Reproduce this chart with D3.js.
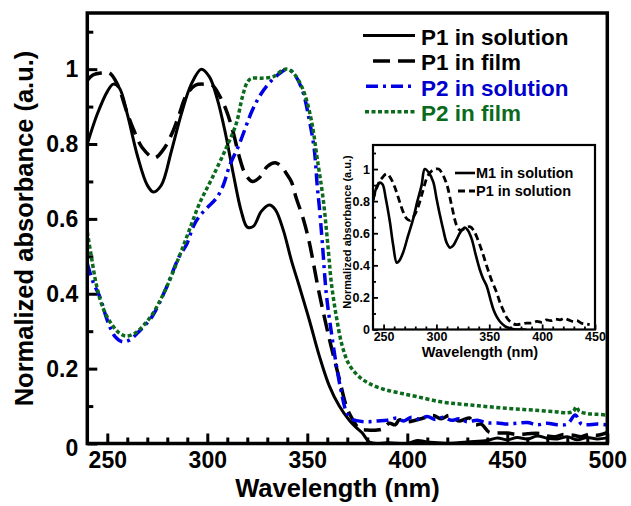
<!DOCTYPE html>
<html>
<head>
<meta charset="utf-8">
<script src="https://cdn.jsdelivr.net/npm/d3@7"></script>
<style>
  html, body { margin: 0; padding: 0; background: #fff; }
  svg { display: block; font-family: "Liberation Sans", Arial, sans-serif; font-weight: bold; }
</style>
</head>
<body>
<svg id="chart" width="631" height="506"></svg>
<script>
// ---- Main panel: normalized absorbance spectra [wavelength (nm), absorbance] ----
const p1Solution = [
  [240,0.80],[245,0.88],[250,0.94],[253,0.96],[256,0.95],[260,0.88],[265,0.77],[270,0.69],
  [273,0.672],[277,0.69],[282,0.78],[287,0.88],[292,0.96],[297,1.0],[301,0.98],[305,0.92],
  [309,0.83],[313,0.72],[317,0.62],[320,0.578],[323,0.58],[327,0.62],[331,0.637],[334,0.625],
  [338,0.57],[342,0.49],[346,0.42],[351,0.33],[356,0.234],[361,0.154],[366,0.10],[371,0.062],
  [374,0.045],[377.5,0.028],[381,0.004],[385,0.0],[390,0.002],[400,0.0],[405,0.008],[410,0.004],
  [415,0.002],[420,0.0],[430,0.004],[440,0.008],[445,0.015],[450,0.01],[455,0.016],[460,0.012],
  [465,0.02],[470,0.014],[475,0.012],[480,0.018],[485,0.01],[490,0.016],[495,0.012],[500,0.015]
];
const p1Film = [
  [240,0.97],[243,0.985],[247,0.99],[251,0.99],[255,0.96],[259.5,0.89],[263,0.84],[267.5,0.79],
  [273.5,0.763],[278,0.785],[282.5,0.83],[286,0.88],[289.5,0.93],[294,0.957],[298,0.96],
  [302.5,0.957],[306,0.93],[309.5,0.89],[313,0.83],[316,0.766],[319,0.72],[322.5,0.70],[326,0.71],
  [330,0.74],[334,0.75],[337,0.74],[339.7,0.72],[342,0.70],[344.5,0.655],[348,0.60],[351,0.537],
  [356,0.40],[361,0.28],[366,0.173],[369.5,0.10],[372.5,0.066],[376,0.04],[380,0.036],[385,0.036],
  [388,0.04],[391,0.054],[394,0.05],[396,0.063],[400,0.058],[404,0.062],[408,0.068],[413,0.075],
  [417,0.066],[421,0.075],[426,0.06],[431,0.068],[434,0.05],[437,0.052],[441,0.03],[446,0.028],
  [450,0.028],[455,0.024],[460,0.026],[466,0.027],[470,0.02],[474,0.018],[478,0.024],[483,0.022],
  [487,0.018],[491,0.025],[495,0.022],[500,0.03]
];
const p2Solution = [
  [240,0.48],[243,0.43],[246.4,0.39],[249,0.345],[251.4,0.31],[254,0.285],[257.5,0.272],[261,0.276],
  [266,0.30],[272.5,0.34],[279,0.41],[286,0.50],[289.5,0.53],[293,0.58],[296,0.607],[300,0.63],
  [304.5,0.655],[308,0.69],[311,0.74],[316,0.80],[322.5,0.89],[327,0.935],[331,0.963],[336,0.988],
  [340,1.0],[343,0.99],[347.5,0.944],[351,0.864],[353.5,0.785],[355,0.686],[356,0.633],[357.5,0.537],
  [359.5,0.40],[362,0.298],[364.5,0.21],[367,0.138],[369.5,0.085],[372,0.066],[374.5,0.061],
  [380,0.058],[385,0.06],[390,0.062],[395,0.068],[398,0.06],[402,0.07],[406,0.065],[410,0.072],
  [414,0.064],[418,0.07],[422,0.062],[426,0.066],[430,0.058],[435,0.062],[440,0.055],[445,0.055],
  [450,0.052],[455,0.054],[460,0.056],[465,0.05],[470,0.054],[475,0.05],[480,0.052],[484,0.076],
  [487,0.052],[490,0.05],[495,0.052],[500,0.05]
];
const p2Film = [
  [240,0.565],[242,0.50],[244.7,0.42],[248,0.36],[252,0.32],[256,0.295],[259.5,0.287],[264,0.295],
  [268,0.315],[272.5,0.345],[279,0.41],[286,0.50],[291,0.57],[296,0.64],[302.5,0.71],[309.5,0.79],
  [314.5,0.855],[317.5,0.925],[320,0.965],[322,0.975],[327,0.976],[333,0.98],[337.5,0.997],[340,1.0],
  [342,0.995],[344.5,0.98],[347.5,0.95],[350,0.91],[352.5,0.85],[355,0.76],[358,0.65],[360.5,0.517],
  [362,0.43],[364.5,0.34],[367.5,0.26],[371,0.21],[376,0.178],[381,0.16],[387.5,0.146],[396,0.135],
  [405,0.125],[416,0.112],[425,0.106],[433,0.102],[441,0.098],[449.5,0.094],[458,0.091],[466,0.088],
  [474,0.085],[480,0.082],[483,0.086],[484.5,0.098],[486,0.086],[490,0.08],[495,0.078],[500,0.076]
];

// ---- Inset panel: monomer vs polymer in solution ----
const m1SolutionInset = [
  [240,0.80],[243,0.88],[246,0.915],[249,0.905],[252,0.82],[256,0.67],[259,0.53],[262.5,0.416],
  [265,0.43],[268.5,0.48],[273,0.58],[278,0.69],[282,0.80],[286,0.90],[289,1.0],[293,0.975],
  [297,0.92],[300,0.82],[303.4,0.71],[306.5,0.62],[309.7,0.54],[312.8,0.51],[316,0.525],[319,0.56],
  [323,0.61],[327,0.636],[330,0.615],[333.4,0.563],[337,0.47],[341,0.374],[344,0.32],[347.6,0.27],
  [351,0.19],[354,0.123],[357,0.08],[360,0.05],[365,0.02],[369.6,0.008],[375,0.0],[385,0.0]
];
const p1SolutionInset = [
  [240,0.81],[244,0.89],[248,0.94],[253,0.97],[257,0.94],[261,0.88],[265,0.80],[268.7,0.73],
  [272,0.69],[275,0.68],[279,0.71],[283,0.77],[287,0.86],[292,0.96],[297,0.995],[302,1.0],
  [306,0.965],[310,0.90],[314.5,0.77],[319,0.65],[322,0.62],[324,0.62],[328,0.635],[332,0.64],
  [335,0.62],[338,0.58],[343,0.49],[347.6,0.395],[352,0.31],[357,0.23],[360,0.17],[363,0.123],
  [366,0.08],[369.6,0.05],[373,0.035],[376,0.03],[381,0.035],[385,0.04],[390,0.04],[395,0.05],
  [400,0.045],[404,0.06],[408,0.055],[412,0.065],[417,0.06],[421,0.07],[425,0.06],[429.5,0.05],
  [433,0.055],[437,0.04],[441,0.035],[445,0.03]
];

// ---- Tick definitions ----
const mainXMajor = [250, 300, 350, 400, 450, 500];
const mainXMinor = [260, 270, 280, 290, 310, 320, 330, 340, 360, 370, 380, 390, 410, 420, 430, 440, 460, 470, 480, 490];
const mainYMajor = [0, 0.2, 0.4, 0.6, 0.8, 1];
const mainYMinor = [0.1, 0.3, 0.5, 0.7, 0.9, 1.1];
const insetXMajor = [250, 300, 350, 400, 450];
const insetXMinor = [260, 270, 280, 290, 310, 320, 330, 340, 360, 370, 380, 390, 410, 420, 430, 440];
const insetYMajor = [0, 0.2, 0.4, 0.6, 0.8, 1];
const insetYMinor = [0.1, 0.3, 0.5, 0.7, 0.9, 1.1];

const legendMain = ["P1 in solution", "P1 in film", "P2 in solution", "P2 in film"];
const legendInset = ["M1 in solution", "P1 in solution"];

const BLUE = "#0000e6";
const GREEN = "#0b6a1c";

const svg = d3.select("#chart");
const fmt = v => (v === 0 ? "0" : v === 1 ? "1" : d3.format(".1f")(v));

// Draws one framed panel with inward ticks; returns its scales.
function panel(g, opt) {
  const x = d3.scaleLinear().domain(opt.xDomain).range([opt.left, opt.right]);
  const y = d3.scaleLinear().domain(opt.yDomain).range([opt.bottom, opt.top]);

  g.append("rect")
    .attr("x", opt.left).attr("y", opt.top)
    .attr("width", opt.right - opt.left).attr("height", opt.bottom - opt.top)
    .attr("fill", "#fff");

  const tickStyle = sel => {
    sel.select(".domain").remove();
    sel.selectAll(".tick line").attr("stroke", "#000").attr("stroke-width", opt.tickWidth);
  };

  // x ticks (inward)
  g.append("g").attr("transform", `translate(0,${opt.bottom})`)
    .call(d3.axisBottom(x).tickValues(opt.xMinor).tickSize(-opt.minorLen).tickFormat(""))
    .call(tickStyle);
  g.append("g").attr("transform", `translate(0,${opt.bottom})`)
    .call(d3.axisBottom(x).tickValues(opt.xMajor).tickSize(-opt.majorLen).tickPadding(opt.xPad).tickFormat(d3.format("d")))
    .call(tickStyle)
    .call(s => s.selectAll("text").attr("fill", "#000").attr("font-size", opt.tickFont)
      .attr("font-family", "Liberation Sans, Arial, sans-serif").attr("font-weight", "bold"));

  // y ticks (inward)
  g.append("g").attr("transform", `translate(${opt.left},0)`)
    .call(d3.axisLeft(y).tickValues(opt.yMinor).tickSize(-opt.minorLen).tickFormat(""))
    .call(tickStyle);
  g.append("g").attr("transform", `translate(${opt.left},0)`)
    .call(d3.axisLeft(y).tickValues(opt.yMajor).tickSize(-opt.majorLen).tickPadding(opt.yPad).tickFormat(fmt))
    .call(tickStyle)
    .call(s => s.selectAll("text").attr("fill", "#000").attr("font-size", opt.tickFont)
      .attr("font-family", "Liberation Sans, Arial, sans-serif").attr("font-weight", "bold")
      .attr("dy", d => (d === 0 ? opt.zeroDy : "0.32em")));

  return { x, y };
}

function frame(g, opt) {
  g.append("rect")
    .attr("x", opt.left).attr("y", opt.top)
    .attr("width", opt.right - opt.left).attr("height", opt.bottom - opt.top)
    .attr("fill", "none").attr("stroke", "#000").attr("stroke-width", opt.frameWidth);
}

function drawSeries(g, sc, data, style, clipId) {
  const line = d3.line()
    .x(d => sc.x(d[0])).y(d => sc.y(d[1]))
    .curve(d3.curveCatmullRom.alpha(0.5));
  g.append("path")
    .datum(data)
    .attr("clip-path", `url(#${clipId})`)
    .attr("fill", "none")
    .attr("stroke", style.color)
    .attr("stroke-width", style.width)
    .attr("stroke-dasharray", style.dash || null)
    .attr("stroke-linejoin", "round")
    .attr("d", line);
}

// ================= Main panel =================
const mainOpt = {
  left: 87.3, right: 607.3, top: 13, bottom: 443.5,
  xDomain: [240, 500], yDomain: [0, 1.15],
  xMajor: mainXMajor, xMinor: mainXMinor, yMajor: mainYMajor, yMinor: mainYMinor,
  majorLen: 10, minorLen: 6, tickWidth: 3, tickFont: "23px",
  xPad: 8, yPad: 9, zeroDy: "0.52em", frameWidth: 3.5
};
const gMain = svg.append("g");
const main = panel(gMain, mainOpt);

svg.append("clipPath").attr("id", "clipMain").append("rect")
  .attr("x", mainOpt.left).attr("y", mainOpt.top)
  .attr("width", mainOpt.right - mainOpt.left).attr("height", mainOpt.bottom - mainOpt.top);

const mainStyles = [
  { color: "#000", width: 3, dash: null },
  { color: "#000", width: 3.5, dash: "17,8" },
  { color: BLUE, width: 3.5, dash: "12,5,3,5" },
  { color: GREEN, width: 3.5, dash: "4,2.5" }
];
[p1Solution, p1Film, p2Solution, p2Film].forEach((s, i) => drawSeries(gMain, main, s, mainStyles[i], "clipMain"));

// Legend (main)
const legColors = ["#000", "#000", "#0000cc", GREEN];
const legLines = [[363, 415], [373, 415], [366, 415], [365, 415]];
legendMain.forEach((t, i) => {
  const base = 45 + i * 25.4;
  gMain.append("line")
    .attr("x1", legLines[i][0]).attr("x2", legLines[i][1])
    .attr("y1", base - 9.5).attr("y2", base - 9.5)
    .attr("stroke", mainStyles[i].color).attr("stroke-width", mainStyles[i].width)
    .attr("stroke-dasharray", mainStyles[i].dash);
  gMain.append("text").attr("x", 421).attr("y", base)
    .attr("font-size", "22.5px").attr("fill", legColors[i]).text(t);
});

// ================= Inset panel =================
const insetOpt = {
  left: 373, right: 595, top: 145, bottom: 329.5,
  xDomain: [240, 450], yDomain: [0, 1.15],
  xMajor: insetXMajor, xMinor: insetXMinor, yMajor: insetYMajor, yMinor: insetYMinor,
  majorLen: 5, minorLen: 3, tickWidth: 1.8, tickFont: "12.5px",
  xPad: 3, yPad: 3, zeroDy: "0.32em", frameWidth: 2.2
};
const gInset = svg.append("g");
const inset = panel(gInset, insetOpt);

svg.append("clipPath").attr("id", "clipInset").append("rect")
  .attr("x", insetOpt.left).attr("y", insetOpt.top)
  .attr("width", insetOpt.right - insetOpt.left).attr("height", insetOpt.bottom - insetOpt.top);

const insetStyles = [
  { color: "#000", width: 2.6, dash: null },
  { color: "#000", width: 2.8, dash: "7,4" }
];
[m1SolutionInset, p1SolutionInset].forEach((s, i) => drawSeries(gInset, inset, s, insetStyles[i], "clipInset"));

legendInset.forEach((t, i) => {
  const base = 177.5 + i * 18;
  gInset.append("line")
    .attr("x1", i === 0 ? 455 : 458).attr("x2", 475)
    .attr("y1", base - 4.5).attr("y2", base - 4.5)
    .attr("stroke", "#000").attr("stroke-width", insetStyles[i].width)
    .attr("stroke-dasharray", insetStyles[i].dash);
  gInset.append("text").attr("x", 476).attr("y", base)
    .attr("font-size", "14.5px").attr("fill", "#000").text(t);
});

frame(gInset, insetOpt);

// Inset axis titles
gInset.append("text")
  .attr("x", 480).attr("y", 357)
  .attr("text-anchor", "middle").attr("font-size", "14.5px").text("Wavelength (nm)");
gInset.append("text")
  .attr("transform", "translate(351,232) rotate(-90)")
  .attr("text-anchor", "middle").attr("font-size", "11px").text("Normalized absorbance (a.u.)");

// Main frame on top
frame(gMain, mainOpt);

// Main axis titles
svg.append("text")
  .attr("x", 337.5).attr("y", 497)
  .attr("text-anchor", "middle").attr("font-size", "25.5px").text("Wavelength (nm)");
svg.append("text")
  .attr("transform", "translate(32.5,228.5) rotate(-90)")
  .attr("text-anchor", "middle").attr("font-size", "25.5px").text("Normalized absorbance (a.u.)");
</script>
</body>
</html>
